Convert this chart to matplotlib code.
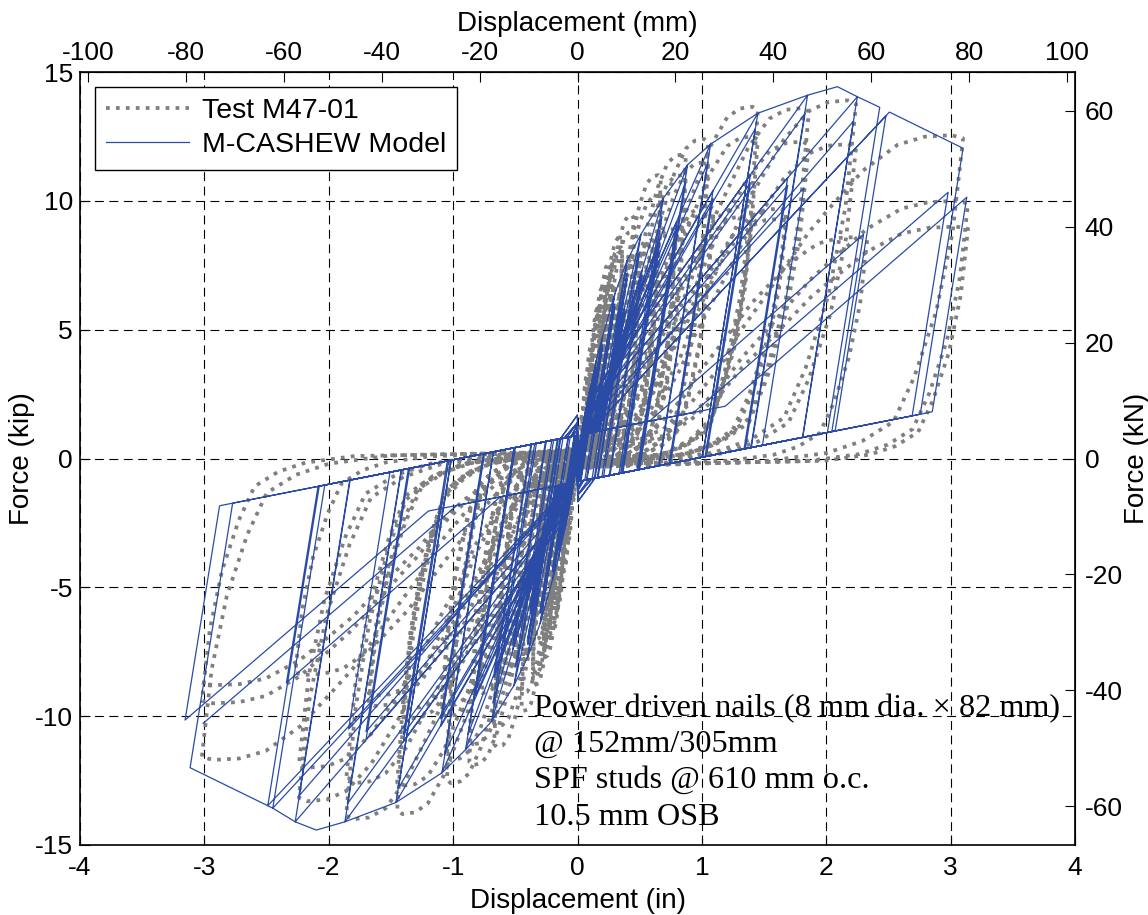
import numpy as np
import matplotlib.pyplot as plt

plt.rcParams['font.family'] = ['Liberation Sans', 'DejaVu Sans']
plt.rcParams['axes.unicode_minus'] = False

# ---------------- values ----------------
# M-CASHEW backbone (in, kip); negative side stored as magnitudes
env_pos_d = [0.0, 0.05, 0.1, 0.15, 0.2, 0.3, 0.4, 0.51, 0.69, 0.885, 1.07, 1.45, 1.85, 2.09, 2.25, 2.43, 3.10, 3.4]
env_pos_F = [0.0, 1.45, 2.7, 3.8, 4.7, 6.4, 7.7, 8.7, 10.1, 11.4, 12.2, 13.4, 14.1, 14.43, 14.04, 13.63, 12.04, 11.3]
env_neg_d = [0.0, 0.05, 0.1, 0.15, 0.2, 0.3, 0.4, 0.51, 0.69, 0.90, 1.09, 1.46, 1.87, 2.10, 2.27, 2.45, 3.115, 3.4]
env_neg_F = [0.0, 1.45, 2.7, 3.8, 4.7, 6.4, 7.7, 8.8, 10.2, 11.3, 12.2, 13.35, 14.1, 14.42, 14.1, 13.57, 12.0, 11.3]

# model reversal points, one entry per cycle (primary, trailing, repeat)
mdl_pos_d = [0.05, 0.05, 0.05, 0.10, 0.10, 0.10, 0.15, 0.15, 0.15, 0.20, 0.20, 0.20,
             0.30, 0.30, 0.30, 0.40, 0.40, 0.40,
             0.51, 0.38, 0.38, 0.50,
             0.69, 0.52, 0.52, 0.68,
             0.885, 0.66, 0.66, 0.87,
             1.07, 0.80, 0.80, 1.05,
             1.45, 1.09, 1.09, 1.43,
             1.85, 1.39, 1.39, 1.83,
             2.25, 1.69, 1.69, 2.22,
             2.43, 1.82, 2.48,
             3.10, 2.30, 3.13, 2.98]
mdl_pos_F = [1.45, 1.35, 1.3, 2.7, 2.5, 2.45, 3.8, 3.55, 3.5, 4.7, 4.4, 4.3,
             6.4, 6.0, 5.9, 7.7, 7.2, 7.0,
             8.7, 5.9, 5.7, 8.0,
             10.1, 7.3, 7.1, 9.4,
             11.4, 8.5, 8.3, 10.7,
             12.2, 9.2, 9.0, 11.5,
             13.4, 10.4, 10.1, 12.8,
             14.1, 11.0, 10.7, 13.4,
             14.04, 10.9, 10.6, 13.1,
             13.63, 10.5, 13.3,
             12.04, 8.7, 10.14, 10.33]
mdl_neg_d = [-0.05, -0.05, -0.05, -0.10, -0.10, -0.10, -0.15, -0.15, -0.15, -0.20, -0.20, -0.20,
             -0.30, -0.30, -0.30, -0.40, -0.40, -0.40,
             -0.51, -0.38, -0.38, -0.50,
             -0.69, -0.52, -0.52, -0.68,
             -0.90, -0.67, -0.67, -0.88,
             -1.09, -0.82, -0.82, -1.07,
             -1.46, -1.10, -1.10, -1.44,
             -1.87, -1.40, -1.40, -1.85,
             -2.27, -1.70, -1.70, -2.24,
             -2.45, -1.84, -2.49,
             -3.115, -2.34, -3.155, -3.01]
mdl_neg_F = [-1.45, -1.35, -1.3, -2.7, -2.5, -2.45, -3.8, -3.55, -3.5, -4.7, -4.4, -4.3,
             -6.4, -6.0, -5.9, -7.7, -7.2, -7.0,
             -8.8, -6.0, -5.8, -8.1,
             -10.2, -7.4, -7.2, -9.5,
             -11.3, -8.5, -8.3, -10.7,
             -12.2, -9.2, -9.0, -11.5,
             -13.35, -10.4, -10.1, -12.8,
             -14.1, -11.0, -10.7, -13.4,
             -14.1, -10.9, -10.6, -13.1,
             -13.57, -10.5, -13.47,
             -12.0, -8.7, -10.15, -10.28]

# test M47-01 reversal points, one entry per cycle
tst_pos_d = [0.04, 0.04, 0.08, 0.08, 0.12, 0.12, 0.18, 0.18, 0.22, 0.22, 0.27, 0.27, 0.27,
             0.36, 0.36, 0.36,
             0.45, 0.34, 0.34, 0.45,
             0.67, 0.50, 0.50, 0.67,
             0.87, 0.65, 0.65, 0.87,
             1.05, 0.79, 0.79, 1.05,
             1.45, 1.09, 1.09, 1.45,
             1.86, 1.40, 1.40, 1.86,
             2.24, 1.68, 1.68, 2.24,
             3.10, 2.33, 3.14, 3.14]
tst_pos_F = [1.7, 1.6, 3.2, 3.0, 4.4, 4.2, 5.9, 5.6, 6.7, 6.4, 7.6, 7.2, 7.0,
             8.6, 8.2, 8.0,
             9.45, 6.8, 6.6, 8.8,
             11.0, 7.9, 7.7, 10.2,
             11.8, 8.5, 8.3, 11.0,
             12.4, 8.9, 8.7, 11.5,
             13.65, 9.8, 9.5, 12.5,
             13.6, 9.8, 9.4, 12.3,
             13.9, 9.7, 9.3, 12.2,
             12.55, 8.6, 10.0, 9.0]
tst_neg_d = [-0.04, -0.04, -0.08, -0.08, -0.12, -0.12, -0.18, -0.18, -0.22, -0.22, -0.27, -0.27, -0.27,
             -0.36, -0.36, -0.36,
             -0.45, -0.34, -0.34, -0.45,
             -0.67, -0.50, -0.50, -0.67,
             -0.87, -0.65, -0.65, -0.87,
             -1.05, -0.79, -0.79, -1.05,
             -1.45, -1.09, -1.09, -1.45,
             -1.86, -1.40, -1.40, -1.86,
             -2.24, -1.68, -1.68, -2.24,
             -3.02, -2.27, -3.02, -3.02]
tst_neg_F = [-1.7, -1.6, -3.2, -3.0, -4.4, -4.2, -5.9, -5.6, -6.8, -6.5, -7.7, -7.3, -7.1,
             -8.8, -8.4, -8.2,
             -9.8, -7.0, -6.8, -9.1,
             -11.2, -8.0, -7.8, -10.4,
             -11.9, -8.6, -8.4, -11.1,
             -12.6, -9.1, -8.9, -11.7,
             -13.8, -10.0, -9.6, -12.7,
             -14.0, -10.1, -9.7, -12.6,
             -13.3, -9.6, -9.2, -12.0,
             -11.7, -8.4, -9.5, -8.8]

# loop shape of the test, read from the largest loop
unl_w = [0.0, 0.16, 0.41, 0.75, 1.07, 1.55, 2.1, 3.1]     # offset in units of F/Ku
unl_v = [1.0, 0.70, 0.457, 0.252, 0.114, 0.054, 0.017, -0.01]
load_u = [0.0, 0.1, 0.22, 0.3, 0.37, 0.42, 0.48, 0.54, 0.60, 0.655, 0.74, 0.83, 0.9, 0.97, 1.0]
load_v = [0.03, 0.04, 0.088, 0.18, 0.285, 0.39, 0.49, 0.595, 0.70, 0.776, 0.89, 0.97, 0.995, 1.0, 0.99]

# hysteresis parameters of the model
K0 = 30.0      # initial and unloading stiffness, kip/in
F_I = 0.9      # pinching intercept, kip
K_P = 0.95     # pinching stiffness, kip/in
D0 = 0.35
ALPHA = 0.9
KU_TEST = 24.0


def model_path():
    env = {1: (env_pos_d, env_pos_F), -1: (env_neg_d, env_neg_F)}
    hmax = {1: (0.0, 0.0), -1: (0.0, 0.0)}
    targets = []
    for i in range(len(mdl_pos_d)):
        targets.append((mdl_pos_d[i], mdl_pos_F[i]))
        targets.append((mdl_neg_d[i], mdl_neg_F[i]))
    dr, Fr = 0.0, 0.0
    xs, ys = [0.0], [0.0]
    for dt, Ft in targets:
        s = 1 if dt > dr else -1
        ed, eF = env[s]
        env_t = np.interp(abs(dt), ed, eF)
        if s * Ft < env_t - 0.05:
            da, Fa = dt, Ft
            dm = max(abs(hmax[s][0]), abs(dt))
        else:
            da, Fa = hmax[s]
            dm = abs(hmax[s][0])
        Kr = K0 * (D0 / max(dm, D0)) ** ALPHA
        n = max(int(abs(dt - dr) / 0.004), 10)
        d = np.linspace(dr, dt, n)
        sU = s * (Fr + K0 * (d - dr))
        sP = F_I + s * K_P * d
        sR = s * (Fa + Kr * (d - da))
        sE = np.where(s * d > 0, np.interp(np.abs(d), ed, eF), np.inf)
        F = s * np.minimum(np.minimum(sU, np.maximum(sP, sR)), sE)
        xs.extend(d[1:])
        ys.extend(F[1:])
        if s * dt > s * hmax[s][0]:
            hmax[s] = (dt, F[-1])
        dr, Fr = dt, F[-1]
    return np.array(xs), np.array(ys)


def test_path():
    targets = []
    for i in range(len(tst_pos_d)):
        targets.append((tst_pos_d[i], tst_pos_F[i]))
        targets.append((tst_neg_d[i], tst_neg_F[i]))
    dr, Fr = 0.0, 0.0
    xs, ys = [0.0], [0.0]
    for dt, Ft in targets:
        s = 1 if dt > dr else -1
        if Fr != 0.0:
            w = np.array(unl_w) * abs(Fr) / KU_TEST
            c = min(1.0, 0.75 * abs(dr) / w[-1])
            du = dr + s * w * c
            Fu = Fr * np.array(unl_v)
        else:
            du, Fu = np.array([0.0]), np.array([0.0])
        dl = dt * np.array(load_u)
        Fl = Ft * np.array(load_v)
        keep = s * dl > s * du[-1]
        xs.extend(du[1:])
        ys.extend(Fu[1:])
        xs.extend(dl[keep])
        ys.extend(Fl[keep])
        dr, Fr = dt, Ft
    return np.array(xs), np.array(ys)


tx, ty = test_path()
mx, my = model_path()

fig = plt.figure(figsize=(11.48, 9.15), dpi=100)
ax = fig.add_axes([80 / 1148, 1 - 845 / 915, 995 / 1148, 773 / 915])

ax.plot(tx, ty, color='#7f7f7f', lw=2.7, linestyle=':', dash_capstyle='butt',
        label='Test M47-01', zorder=2)
ax.plot(mx, my, color='#2b4ca6', lw=0.9, label='M-CASHEW Model', zorder=3)

ax.set_xlim(-4, 4)
ax.set_ylim(-15, 15)
ax.set_xticks(np.arange(-4, 5, 1))
ax.set_yticks(np.arange(-15, 16, 5))
ax.grid(True, color='black', linestyle=(0, (8, 5)), lw=0.8)
ax.set_axisbelow(True)
ax.tick_params(direction='in', length=7, labelsize=19, top=False, right=False)
ax.tick_params(axis='x', pad=8)
ax.tick_params(axis='y', pad=5)
ax.set_xlabel('Displacement (in)', fontsize=20, labelpad=6)
ax.set_ylabel('Force (kip)', fontsize=20, labelpad=0)

top = ax.secondary_xaxis('top', functions=(lambda x: x * 25.4, lambda x: x / 25.4))
top.set_xticks(np.arange(-100, 101, 20))
top.tick_params(direction='in', length=7, labelsize=19, pad=5)
top.set_xlabel('Displacement (mm)', fontsize=20, labelpad=7)

right = ax.secondary_yaxis('right', functions=(lambda y: y * 4.448, lambda y: y / 4.448))
right.set_yticks(np.arange(-60, 61, 20))
right.tick_params(direction='in', length=7, labelsize=19, pad=7)
right.set_ylabel('Force (kN)', fontsize=20, rotation=90, labelpad=1)

for sp in ax.spines.values():
    sp.set_linewidth(1.2)

leg = ax.legend(loc='upper left', bbox_to_anchor=(15 / 995, 1 - 15 / 773), borderaxespad=0,
                fontsize=20.5, fancybox=False, framealpha=1, edgecolor='black',
                handlelength=2.9, handletextpad=0.45, borderpad=0.4, labelspacing=0.28)
leg.get_frame().set_linewidth(1.0)

ax.text(0.456, 0.196,
        'Power driven nails (8 mm dia. \u00d7 82 mm)\n@ 152mm/305mm\nSPF studs @ 610 mm o.c.\n10.5 mm OSB',
        transform=ax.transAxes, ha='left', va='top', fontsize=23.2,
        family=['Liberation Serif', 'DejaVu Serif'], linespacing=1.33, zorder=5)

fig.savefig('out.png', dpi=100)
